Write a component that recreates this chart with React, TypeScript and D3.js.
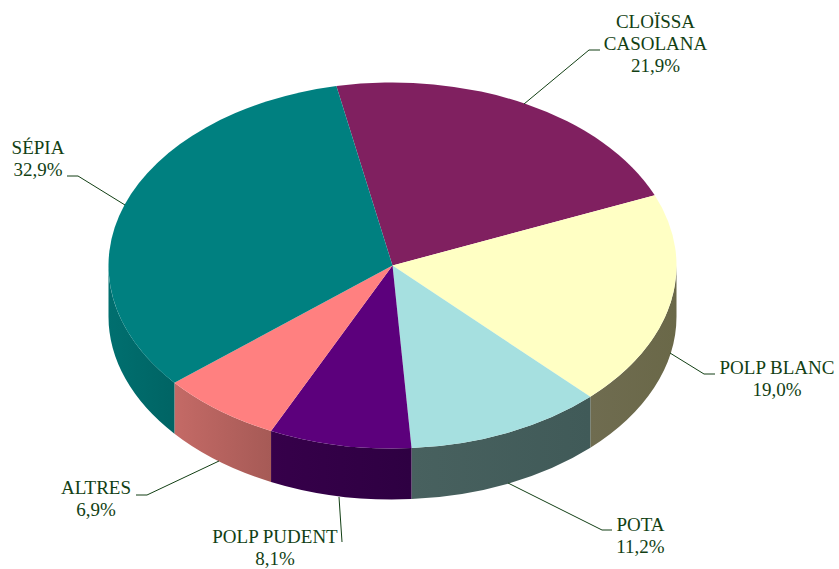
import React from "react";
import * as d3 from "d3";

const WIDTH = 839;
const HEIGHT = 569;

const categories = ["CLOÏSSA CASOLANA", "POLP BLANC", "POTA", "POLP PUDENT", "ALTRES", "SÉPIA"];
const values = [21.9, 19.0, 11.2, 8.1, 6.9, 32.9];
const topColors = ["#802060", "#ffffc4", "#a6e0e0", "#5c007c", "#ff8080", "#008080"];
const wallLeft = ["#601848", "#6f6c50", "#48615f", "#36004a", "#c46a66", "#006f6f"];
const wallRight = ["#601848", "#6a6848", "#405a58", "#2e0042", "#a65a56", "#006464"];

const labelLines = [
  ["CLOÏSSA", "CASOLANA", "21,9%"],
  ["POLP BLANC", "19,0%"],
  ["POTA", "11,2%"],
  ["POLP PUDENT", "8,1%"],
  ["ALTRES", "6,9%"],
  ["SÉPIA", "32,9%"],
];
const labelX = [655.5, 777, 640.5, 275, 96, 38];
const labelY = [28, 374, 531, 543, 494, 154];
const leaderPoints: [number, number][][] = [
  [[524, 104], [589, 50], [600, 50]],
  [[670, 353], [704, 374], [715, 374]],
  [[508, 483], [602, 530], [612, 530]],
  [[339, 497], [342, 542]],
  [[219, 461], [147, 495], [136, 495]],
  [[125, 205], [78, 176], [67, 176]],
];

const CX = 392.5;
const CY = 265.5;
const RX = 284;
const RY = 183;
const DEPTH = 51;
const START_DEG = -11.4;
const FONT_SIZE = 19;
const LINE_HEIGHT = 22;
const TEXT_COLOR = "#123f14";

const toRad = (d: number) => (d * Math.PI) / 180;
const pt = (t: number, dy = 0): [number, number] => [CX + RX * Math.sin(t), CY - RY * Math.cos(t) + dy];

function wallPath(a: number, b: number): string | null {
  const lo = Math.max(a, Math.PI / 2);
  const hi = Math.min(b, (3 * Math.PI) / 2);
  if (hi <= lo) return null;
  const [x0, y0] = pt(lo);
  const [x1, y1] = pt(hi);
  const [x2, y2] = pt(hi, DEPTH);
  const [x3, y3] = pt(lo, DEPTH);
  return `M${x0},${y0}A${RX},${RY} 0 0 1 ${x1},${y1}L${x2},${y2}A${RX},${RY} 0 0 0 ${x3},${y3}Z`;
}

export default function App() {
  const pie = d3
    .pie<number>()
    .sort(null)
    .startAngle(toRad(START_DEG))
    .endAngle(toRad(START_DEG + 360));
  const arcs = pie(values);
  const arc = d3.arc<d3.PieArcDatum<number>>().innerRadius(0).outerRadius(RX);
  const line = d3.line();

  return (
    <svg
      width={WIDTH}
      height={HEIGHT}
      viewBox={`0 0 ${WIDTH} ${HEIGHT}`}
      style={{ position: "absolute", left: 0, top: 0, background: "#fff" }}
      fontFamily="'Liberation Serif', 'Times New Roman', serif"
    >
      <defs>
        {categories.map((c, i) => {
          const lo = Math.max(arcs[i].startAngle, Math.PI / 2);
          const hi = Math.min(arcs[i].endAngle, (3 * Math.PI) / 2);
          const xs = [pt(lo)[0], pt(hi)[0]];
          return (
            <linearGradient
              key={c}
              id={`wall${i}`}
              gradientUnits="userSpaceOnUse"
              x1={Math.min(...xs)}
              x2={Math.max(...xs)}
              y1={0}
              y2={0}
            >
              <stop offset="0%" stopColor={wallLeft[i]} />
              <stop offset="100%" stopColor={wallRight[i]} />
            </linearGradient>
          );
        })}
      </defs>

      {arcs.map((d, i) => {
        const p = wallPath(d.startAngle, d.endAngle);
        return p ? <path key={categories[i]} d={p} fill={`url(#wall${i})`} /> : null;
      })}

      <g transform={`translate(${CX},${CY}) scale(1,${RY / RX})`}>
        {arcs.map((d, i) => (
          <path key={categories[i]} d={arc(d) ?? ""} fill={topColors[i]} />
        ))}
      </g>

      {leaderPoints.map((pts, i) => (
        <path key={i} d={line(pts) ?? ""} fill="none" stroke={TEXT_COLOR} strokeWidth={1} />
      ))}

      {labelLines.map((lines, i) => (
        <text key={i} x={labelX[i]} y={labelY[i]} textAnchor="middle" fontSize={FONT_SIZE} fill={TEXT_COLOR}>
          {lines.map((l, j) => (
            <tspan key={j} x={labelX[i]} dy={j === 0 ? 0 : LINE_HEIGHT}>
              {l}
            </tspan>
          ))}
        </text>
      ))}
    </svg>
  );
}
